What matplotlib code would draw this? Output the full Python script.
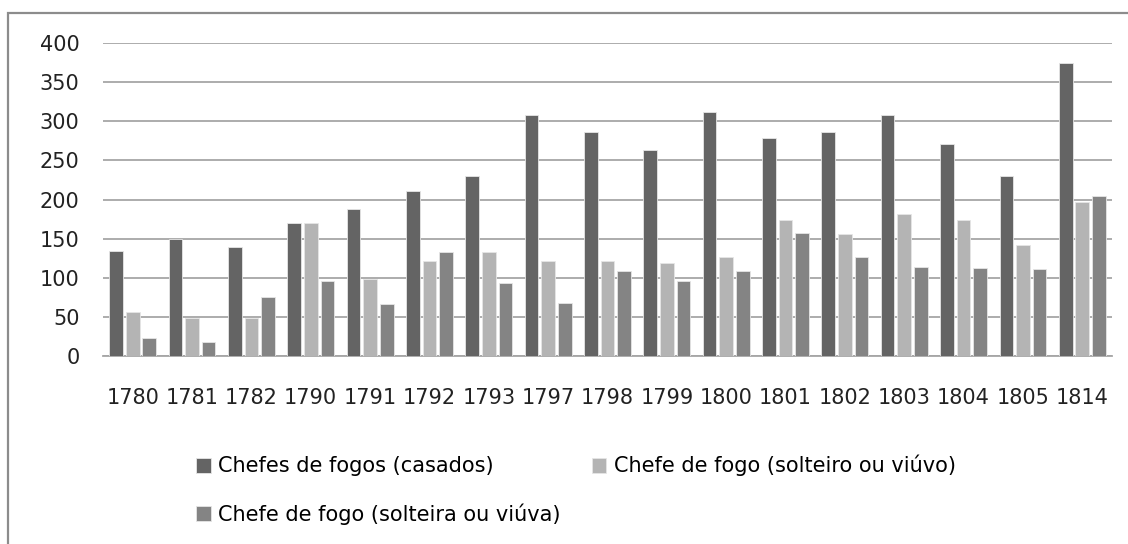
from matplotlib import pyplot as plt
from matplotlib.patches import Rectangle
import numpy as np

# Données
years = ['1780', '1781', '1782', '1790', '1791', '1792', '1793', '1797', '1798',
         '1799', '1800', '1801', '1802', '1803', '1804', '1805', '1814']
casados = [134, 149, 139, 170, 188, 211, 230, 308, 286, 263, 312, 279, 286, 308, 271, 230, 374]
solteiro = [56, 49, 49, 170, 98, 121, 133, 121, 121, 119, 127, 174, 156, 182, 174, 142, 197]
solteira = [23, 18, 76, 96, 66, 133, 93, 68, 108, 96, 108, 157, 127, 114, 113, 111, 204]

labels = ['Chefes de fogos (casados)',
          'Chefe de fogo (solteiro ou viúvo)',
          'Chefe de fogo (solteira ou viúva)']
colors = ['#646464', '#b4b4b4', '#848484']

plt.rcParams['font.family'] = ['DejaVu Sans']

fig = plt.figure(figsize=(11.28, 5.44), dpi=100)
ax = fig.add_axes([103 / 1128, 1 - 356 / 544, (1112 - 103) / 1128, (356 - 43) / 544])

x = np.arange(len(years))
step = 0.28
width = 0.23
bars = []
for i, (vals, c) in enumerate(zip([casados, solteiro, solteira], colors)):
    b = ax.bar(x + (i - 1) * step, vals, width=width, color=c,
               edgecolor='#e6e6e6', linewidth=0.6, zorder=3)
    bars.append(b)

ax.set_xlim(-0.5, len(years) - 0.5)
ax.set_ylim(0, 400)
ax.set_yticks(range(0, 401, 50))
ax.set_xticks(x)
ax.set_xticklabels(years)

ax.grid(axis='y', color='#a6a6a6', linewidth=1.3, zorder=0)
for s in ['top', 'right', 'left']:
    ax.spines[s].set_visible(False)
ax.spines['bottom'].set_color('#a6a6a6')
ax.spines['bottom'].set_linewidth(1.3)
ax.tick_params(axis='both', length=0, labelsize=15, colors='#222222')
ax.tick_params(axis='y', pad=17)
ax.tick_params(axis='x', pad=23)

# Légende : ordre pour remplir les colonnes comme l'original
order = [0, 2, 1]
fig.legend([bars[i] for i in order], [labels[i] for i in order],
           ncol=2, frameon=False, fontsize=15,
           loc='upper left', bbox_to_anchor=(196 / 1128, 1 - 455 / 544),
           handlelength=0.7, handleheight=0.7, handletextpad=0.35,
           columnspacing=1.5, labelspacing=1.28, borderaxespad=0, borderpad=0)

# Cadre gris autour du graphique
fig.patches.append(Rectangle((8 / 1128, -0.05), 1.1, 1 - 13 / 544 + 0.05,
                             transform=fig.transFigure, fill=False,
                             edgecolor='#8c8c8c', linewidth=1.6))

plt.savefig('out.png', dpi=100)
plt.close()
